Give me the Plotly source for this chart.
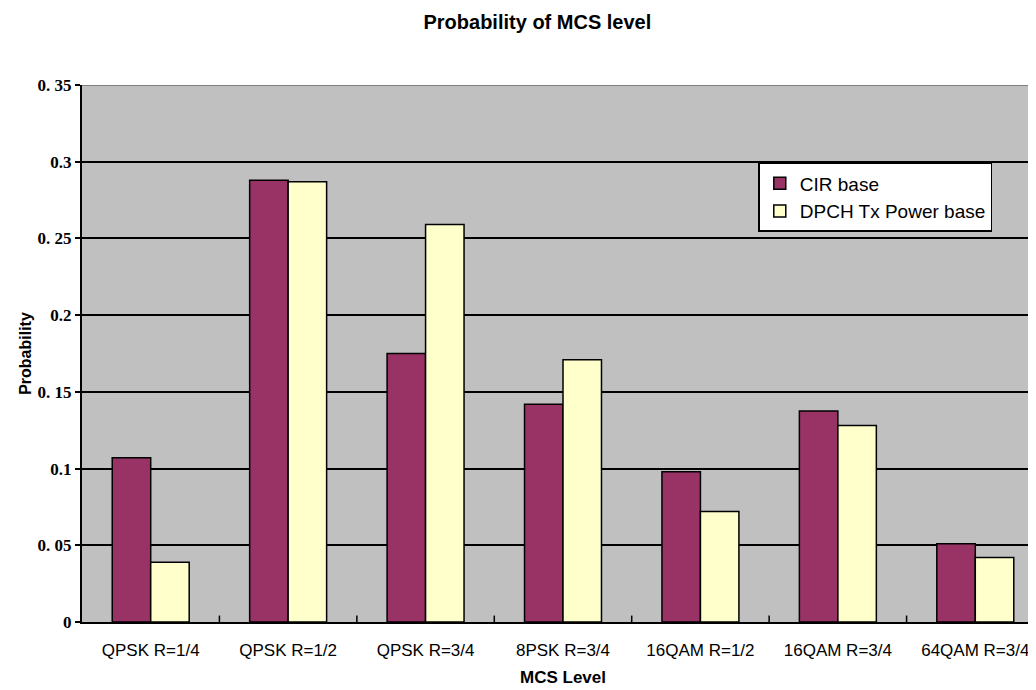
import plotly.graph_objects as go

categories = ["QPSK R=1/4", "QPSK R=1/2", "QPSK R=3/4", "8PSK R=3/4",
              "16QAM R=1/2", "16QAM R=3/4", "64QAM R=3/4"]
cir_base = [0.107, 0.288, 0.175, 0.142, 0.098, 0.1375, 0.051]
dpch_base = [0.039, 0.287, 0.259, 0.171, 0.072, 0.128, 0.042]
y_ticks = [0, 0.05, 0.1, 0.15, 0.2, 0.25, 0.3, 0.35]
y_ticktext = ["0", "0. 05", "0.1", "0. 15", "0.2", "0. 25", "0.3", "0. 35"]

fig = go.Figure()
fig.add_trace(go.Bar(x=categories, y=cir_base, name="CIR base",
                     marker=dict(color="#993366", line=dict(color="black", width=1.5))))
fig.add_trace(go.Bar(x=categories, y=dpch_base, name="DPCH Tx Power base",
                     marker=dict(color="#FFFFCC", line=dict(color="black", width=1.5))))

fig.update_layout(
    width=1036, height=690,
    margin=dict(l=74, r=0, t=77, b=76),
    paper_bgcolor="white",
    plot_bgcolor="#C0C0C0",
    barmode="group",
    bargap=0.44,
    bargroupgap=0,
    title=dict(text="<b>Probability of MCS level</b>", x=0.511, xanchor="center",
               y=0.98, yanchor="middle",
               font=dict(family="Liberation Sans, Arial", size=20, color="black")),
    legend=dict(x=0.703, y=0.855, xanchor="left", yanchor="top",
                bgcolor="white", bordercolor="black", borderwidth=1.5,
                font=dict(family="Liberation Sans, Arial", size=19, color="black"),
                itemwidth=30, tracegroupgap=0),
    font=dict(family="Liberation Sans, Arial", color="black"),
    showlegend=True,
)

fig.update_xaxes(
    range=[-0.5, 6.5],
    showline=True, linecolor="black", linewidth=2,
    showgrid=False,
    tickmode="array", tickvals=categories,
    tickfont=dict(family="Liberation Sans, Arial", size=17, color="black"),
    ticks="", ticklabelstandoff=12,
    title=dict(text="<b>MCS Level</b>", font=dict(family="Liberation Sans, Arial", size=17), standoff=12),
)
fig.update_yaxes(
    range=[0, 0.35],
    showline=True, linecolor="black", linewidth=2,
    showgrid=True, gridcolor="black", gridwidth=1.5,
    tickmode="array", tickvals=y_ticks, ticktext=y_ticktext,
    ticks="outside", ticklen=5, tickcolor="black", tickwidth=1.5,
    tickfont=dict(family="Liberation Serif, DejaVu Serif", size=17, color="black", weight=700),
    zeroline=False,
    title=dict(text="<b>Probability</b>", font=dict(family="Liberation Sans, Arial", size=16), standoff=2),
)

# category separator ticks (inside, pointing up) and gray top border
for i in range(len(categories) - 1):
    fig.add_shape(type="line", xref="x", yref="y domain", x0=i + 0.5, x1=i + 0.5,
                  y0=0, y1=0.012, line=dict(color="black", width=1.5))
fig.add_shape(type="line", xref="paper", yref="y", x0=0, x1=1, y0=0.35, y1=0.35,
              line=dict(color="#808080", width=2), layer="above")

fig.write_html("out.html")
